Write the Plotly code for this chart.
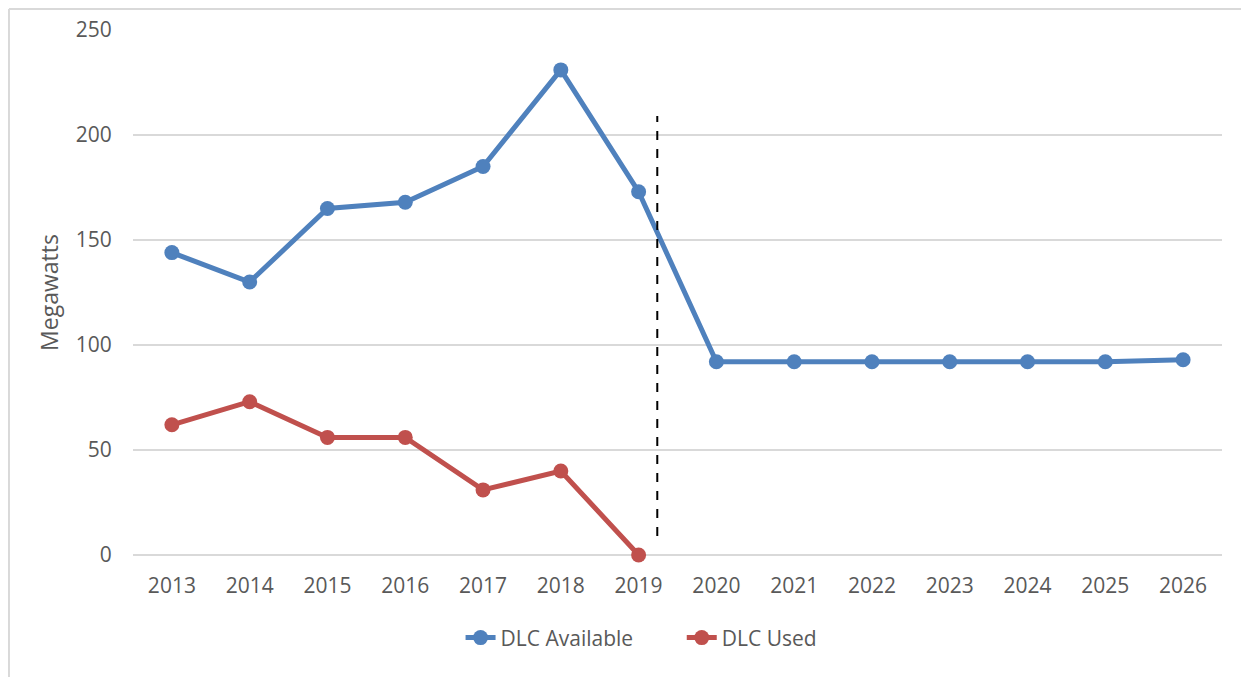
import plotly.graph_objects as go

# Dados
years = ['2013', '2014', '2015', '2016', '2017', '2018', '2019',
         '2020', '2021', '2022', '2023', '2024', '2025', '2026']
dlc_available = [144, 130, 165, 168, 185, 231, 173, 92, 92, 92, 92, 92, 92, 93]
dlc_used = [62, 73, 56, 56, 31, 40, 0]

BLUE = '#4F81BD'
RED = '#C0504D'
TEXT = '#595959'
GRID = '#D9D9D9'
FONT = 'Open Sans'

fig = go.Figure()

fig.add_trace(go.Scatter(
    x=years, y=dlc_available, mode='lines+markers',
    name='DLC Available' + '\u00a0' * 8,
    line=dict(color=BLUE, width=5), marker=dict(color=BLUE, size=15),
    cliponaxis=False
))
fig.add_trace(go.Scatter(
    x=years[:len(dlc_used)], y=dlc_used, mode='lines+markers', name='DLC Used',
    line=dict(color=RED, width=5), marker=dict(color=RED, size=15),
    cliponaxis=False
))

# linha tracejada separando histórico e projeção
fig.add_shape(type='line', xref='x', yref='y', x0=6.24, x1=6.24, y0=9, y1=209,
              line=dict(color='black', width=2, dash='dash'))

# borda do gráfico (esquerda e topo)
fig.add_shape(type='line', xref='paper', yref='paper', x0=-0.1139, x1=-0.1139,
              y0=-0.3, y1=1.04, line=dict(color=GRID, width=2))
fig.add_shape(type='line', xref='paper', yref='paper', x0=-0.1139, x1=1.05,
              y0=1.04, y1=1.04, line=dict(color=GRID, width=2))

fig.update_layout(
    width=1249, height=677,
    # a página tem 8px de margem no body
    margin=dict(l=125, r=35, t=22, b=130),
    plot_bgcolor='white', paper_bgcolor='white',
    font=dict(family=FONT, size=21, color=TEXT),
    xaxis=dict(
        type='category', range=[-0.5, len(years) - 0.5],
        showgrid=False, showline=False, automargin=False,
        ticks='outside', ticklen=12, tickcolor='rgba(0,0,0,0)',
        tickfont=dict(size=21, color=TEXT)
    ),
    yaxis=dict(
        range=[0, 250], dtick=50, showgrid=True, gridcolor=GRID, gridwidth=2,
        zeroline=True, zerolinecolor=GRID, zerolinewidth=2, automargin=False,
        ticks='outside', ticklen=16, tickcolor='rgba(0,0,0,0)',
        tickfont=dict(size=21, color=TEXT),
        title=dict(text='Megawatts', font=dict(size=23, color=TEXT), standoff=10)
    ),
    legend=dict(
        orientation='h', x=0.467, xanchor='center', y=-0.158, yanchor='middle',
        font=dict(size=21, color=TEXT)
    ),
    showlegend=True
)

fig.write_html('out.html')
